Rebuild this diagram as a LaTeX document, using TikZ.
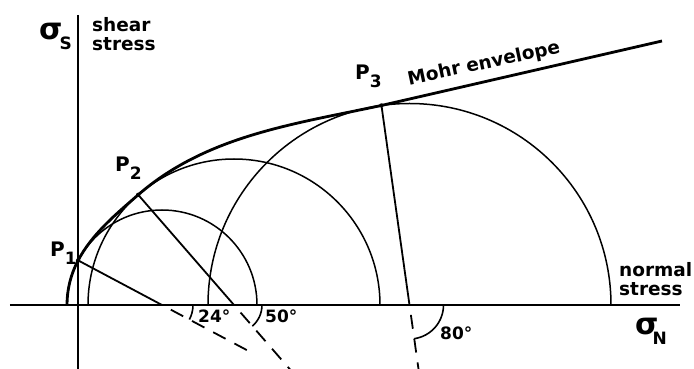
\documentclass[tikz,border=0pt]{standalone}
\usepackage{fontspec}
\setmainfont{DejaVu Sans}
\usetikzlibrary{positioning}
\tikzset{
  axis/.style={line width=2.2pt},
  circ/.style={line width=1.5pt},
  env/.style={line width=2.8pt, line join=round},
  radline/.style={line width=1.8pt},
  ext/.style={line width=1.8pt, dash pattern=on 14pt off 10pt, dash phase=14pt},
  angmark/.style={line width=1.6pt},
  lbl/.style={font=\bfseries\fontsize{18.5}{19}\selectfont, inner sep=0pt, align=left},
  deg/.style={font=\bfseries\fontsize{17}{17}\selectfont, inner sep=0pt, anchor=west},
  plbl/.style={font=\bfseries\fontsize{20}{20}\selectfont, inner sep=0pt, anchor=base west},
  sig/.style={font=\bfseries\fontsize{30}{30}\selectfont, inner sep=0pt, anchor=base west}
}
\newcommand\lowsub[2]{\raisebox{-#2}{\fontsize{17}{17}\selectfont #1}}

\begin{document}
\begin{tikzpicture}[x=1pt, y=1pt]
\useasboundingbox (-78,-64) rectangle (616,305);
\coordinate (xl) at (-68,0);
\coordinate (xr) at (602,0);
\coordinate (yt) at (0,290);
\coordinate (yb) at (0,-70);
\coordinate (c1) at (84,0);
\coordinate (c2) at (156,0);
\coordinate (c3) at (331.5,0);
\coordinate (e) at (584,264);
\path (c1) ++(152:95) coordinate (p1);
\path (c2) ++(131:146) coordinate (p2);
\path (c3) ++(98:201.5) coordinate (p3);
\path (c1) ++(-28:96) coordinate (d1);
\path (c2) ++(-49:92) coordinate (d2);
\path (c3) ++(-82:70) coordinate (d3);
\draw[axis] (xl) -- (xr);
\draw[axis] (yt) -- (yb);
\draw[circ] (c1) ++(0:95) arc[start angle=0, end angle=180, radius=95];
\draw[circ] (c2) ++(0:146) arc[start angle=0, end angle=180, radius=146];
\draw[circ] (c3) ++(0:201.5) arc[start angle=0, end angle=180, radius=201.5];
\draw[env] (c1) ++(180:95) arc[start angle=180, end angle=152, radius=95]
  .. controls +(62:30) and +(221:30) .. (p2)
  .. controls +(41:90) and +(192:90) .. (p3) -- (e);
\draw[radline] (p1) -- (c1);
\draw[radline] (p2) -- (c2);
\draw[radline] (p3) -- (c3);
\draw[ext] (c1) -- (d1);
\draw[ext] (c2) -- (d2);
\draw[ext] (c3) -- (d3);
\draw[angmark] (c1) ++(-28:31) arc[start angle=-28, end angle=0, radius=31];
\draw[angmark] (c2) ++(-49:28) arc[start angle=-49, end angle=0, radius=28];
\draw[angmark] (c3) ++(-82:34) arc[start angle=-82, end angle=0, radius=34];
\fill (p1) circle (2.2);
\fill (p2) circle (2.2);
\fill (p3) circle (2.2);
\node[lbl, rotate=12, anchor=base] (envlbl) at (407,236) {Mohr envelope};
\node[lbl, anchor=north west] (shear) at (14,288) {shear\\stress};
\node[lbl, anchor=north west] (normal) at (541,43) {normal\\stress};
\node[sig] (sigs) at (-39,265) {σ\hspace{-3pt}\lowsub{S}{10pt}};
\node[sig] (sign) at (557,-30) {σ\hspace{-6pt}\lowsub{N}{10pt}};
\node[plbl] (lp1) at (-28,48) {P\lowsub{1}{8pt}};
\node[plbl] (lp2) at (37,133) {P\lowsub{2}{8pt}};
\node[plbl] (lp3) at (277,225) {P\lowsub{3}{8pt}};
\node[deg] (a24) at (120,-11.5) {24°};
\node[deg] (a50) at (187,-11.5) {50°};
\node[deg] (a80) at (362,-28.5) {80°};
\end{tikzpicture}
\end{document}
